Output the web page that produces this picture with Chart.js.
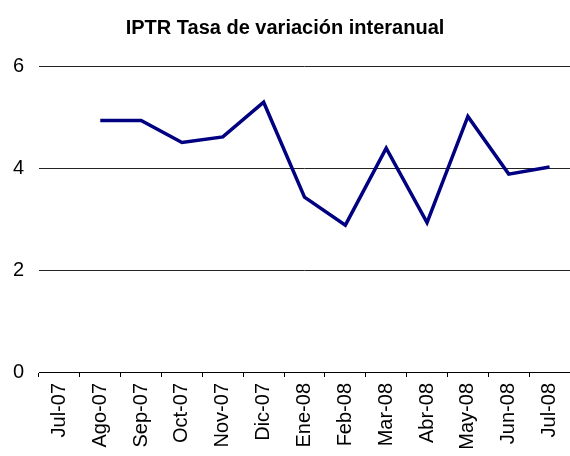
<!DOCTYPE html>
<html>
<head>
<meta charset="utf-8">
<script src="https://cdn.jsdelivr.net/npm/chart.js@4"></script>
<style>
  html, body { margin: 0; padding: 0; background: #fff; }
  #wrap { width: 570px; height: 456px; }
</style>
</head>
<body>
<div id="wrap"><canvas id="chart"></canvas></div>
<script>
// meses del eje X
const meses = ['Jul-07', 'Ago-07', 'Sep-07', 'Oct-07', 'Nov-07', 'Dic-07', 'Ene-08',
  'Feb-08', 'Mar-08', 'Abr-08', 'May-08', 'Jun-08', 'Jul-08'];
// IPTR, tasa de variación interanual (%)
const iptr = [null, 4.93, 4.93, 4.50, 4.61, 5.29, 3.43, 2.88, 4.39, 2.93, 5.01, 3.88, 4.02];
const yTicks = [0, 2, 4, 6];

const fuente = 'Liberation Sans, Arial, sans-serif';

new Chart(document.getElementById('chart'), {
  type: 'line',
  data: {
    labels: meses,
    datasets: [{
      label: 'IPTR',
      data: iptr,
      borderColor: '#000080',
      borderWidth: 3.5,
      pointRadius: 0,
      tension: 0,
      fill: false
    }]
  },
  options: {
    responsive: true,
    maintainAspectRatio: false,
    animation: false,
    layout: { padding: 0 },
    plugins: {
      legend: { display: false },
      tooltip: { enabled: false },
      title: {
        display: true,
        text: 'IPTR Tasa de variación interanual',
        color: '#000',
        font: { family: fuente, size: 20, weight: 'bold' },
        padding: { top: 16, bottom: 26 }
      }
    },
    scales: {
      x: {
        offset: true,
        grid: {
          offset: true,
          drawOnChartArea: false,
          drawTicks: true,
          tickLength: 5,
          color: '#000'
        },
        border: { display: true, color: '#000', width: 1 },
        ticks: {
          color: '#000',
          font: { family: fuente, size: 20 },
          maxRotation: 90,
          minRotation: 90,
          padding: 6,
          autoSkip: false
        },
        afterFit: (s) => {
          s.height = 84;
          s.paddingLeft = 0;
          s.paddingRight = 0;
        }
      },
      y: {
        min: 0,
        max: 6,
        afterBuildTicks: (s) => { s.ticks = yTicks.map(v => ({ value: v })); },
        grid: { color: '#222', lineWidth: 1, drawTicks: false },
        border: { display: false },
        ticks: {
          color: '#000',
          font: { family: fuente, size: 20 },
          padding: 15
        },
        afterFit: (s) => {
          s.width = 39;
          s.paddingTop = 0;
          s.paddingBottom = 0;
        }
      }
    }
  }
});
</script>
</body>
</html>
